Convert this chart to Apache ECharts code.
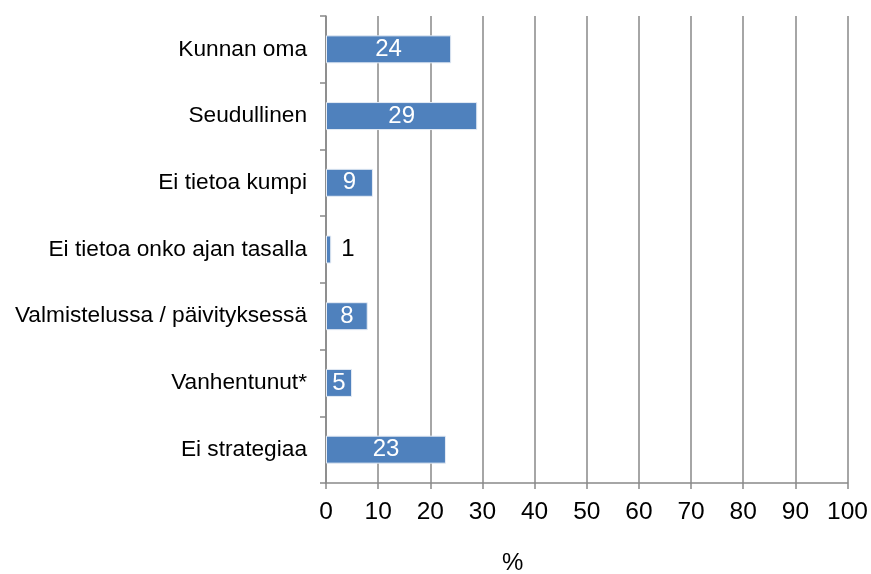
<!DOCTYPE html>
<html>
<head>
<meta charset="utf-8">
<script src="https://cdn.jsdelivr.net/npm/echarts@6/dist/echarts.min.js"></script>
<style>
  html, body { margin: 0; padding: 0; background: #fff; }
  #main { width: 871px; height: 574px; }
</style>
</head>
<body>
<div id="main"></div>
<script>
var categories = ['Kunnan oma', 'Seudullinen', 'Ei tietoa kumpi', 'Ei tietoa onko ajan tasalla',
                  'Valmistelussa / päivityksessä', 'Vanhentunut*', 'Ei strategiaa'];
var values = [24, 29, 9, 1, 8, 5, 23];
var axisTicks = [0, 10, 20, 30, 40, 50, 60, 70, 80, 90, 100];

var myChart = echarts.init(document.getElementById('main'));
var font = 'Liberation Sans, Arial, sans-serif';

var option = {
    animation: false,
    grid: { left: 326, right: 23, top: 16, bottom: 91 },
    xAxis: {
        type: 'value',
        min: 0, max: 100, interval: 10,
        axisLine: { show: true, lineStyle: { color: '#898989', width: 1.5 } },
        axisTick: { show: true, length: 6, lineStyle: { color: '#898989', width: 1.5 } },
        splitLine: { show: true, lineStyle: { color: '#898989', width: 1.5 } },
        axisLabel: {
            color: '#000', fontSize: 24.5, fontFamily: font, margin: 17,
            formatter: function (v) { return axisTicks.indexOf(v) >= 0 ? String(v) : ''; }
        }
    },
    yAxis: {
        type: 'category',
        inverse: true,
        data: categories,
        axisLine: { show: true, lineStyle: { color: '#898989', width: 1.5 } },
        axisTick: { show: true, length: 6, alignWithLabel: false, lineStyle: { color: '#898989', width: 1.5 } },
        axisLabel: { color: '#000', fontSize: 22.7, fontFamily: font, margin: 19 }
    },
    graphic: [{
        type: 'text', left: 502, top: 551,
        style: { text: '%', fill: '#000', font: '24px ' + font }
    }],
    series: [{
        type: 'bar',
        data: values.map(function (v) {
            return {
                value: v,
                label: v < 3 ? { position: 'right', color: '#000', distance: 10 } : {}
            };
        }),
        barWidth: 28,
        itemStyle: { color: '#4F81BD', borderColor: '#e6ecf5', borderWidth: 1 },
        label: {
            show: true, position: 'inside', color: '#fff',
            fontSize: 24, fontFamily: font
        }
    }]
};
myChart.setOption(option);
</script>
</body>
</html>
